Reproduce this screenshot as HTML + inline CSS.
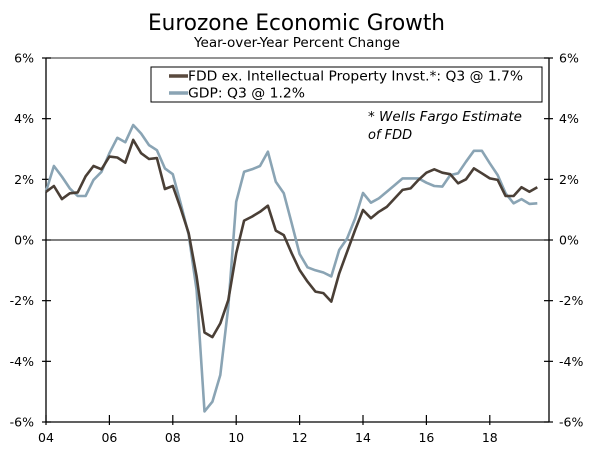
<!DOCTYPE html>
<html><head><meta charset="utf-8"><style>
body{margin:0;background:#fff}
svg text{font-family:"DejaVu Sans","Liberation Sans",sans-serif;fill:#000}
</style></head><body>
<svg id="c" width="600" height="451" viewBox="0 0 600 451" xmlns="http://www.w3.org/2000/svg">
<text x="148" y="30" font-size="22" textLength="297" lengthAdjust="spacingAndGlyphs">Eurozone Economic Growth</text>
<text x="194" y="47" font-size="13" textLength="206" lengthAdjust="spacingAndGlyphs">Year-over-Year Percent Change</text>
<g id="axes"></g>
<g id="series"></g>
<g>
<rect x="151" y="67" width="391" height="35" fill="#fff" stroke="#000" stroke-width="1"/>
<line x1="169" y1="76" x2="188" y2="76" stroke="#5a4a3e" stroke-width="3.5"/>
<text x="188" y="80.5" font-size="13" textLength="335" lengthAdjust="spacingAndGlyphs">FDD ex. Intellectual Property Invst.*: Q3 @ 1.7%</text>
<line x1="169" y1="93" x2="188" y2="93" stroke="#8aa4b4" stroke-width="3.5"/>
<text x="188" y="97.5" font-size="13" textLength="117" lengthAdjust="spacingAndGlyphs">GDP: Q3 @ 1.2%</text>
</g>
<text x="368" y="121" font-size="13" font-style="italic" textLength="154" lengthAdjust="spacingAndGlyphs">* Wells Fargo Estimate</text>
<text x="368" y="139" font-size="13" font-style="italic">of FDD</text>
</svg>
<script>
const yTicks=[-6,-4,-2,0,2,4,6];
const yTickLabels=["-6%","-4%","-2%","0%","2%","4%","6%"];
const xTickYears=[2004,2006,2008,2010,2012,2014,2016,2018];
const xTickLabels=["04","06","08","10","12","14","16","18"];
const startYear=2004;
const fdd=[1.59,1.78,1.35,1.54,1.57,2.1,2.44,2.33,2.75,2.72,2.55,3.3,2.86,2.67,2.7,1.68,1.78,1.04,0.22,-1.2,-3.05,-3.2,-2.75,-1.98,-0.44,0.64,0.77,0.93,1.13,0.31,0.16,-0.44,-0.99,-1.37,-1.7,-1.75,-2.03,-1.1,-0.39,0.33,0.99,0.72,0.93,1.09,1.37,1.65,1.7,1.98,2.22,2.33,2.22,2.17,1.87,2.0,2.36,2.2,2.03,1.98,1.45,1.45,1.74,1.59,1.74];
const gdp=[1.6,2.44,2.09,1.7,1.45,1.45,1.98,2.25,2.86,3.37,3.22,3.79,3.51,3.13,2.96,2.36,2.17,1.2,0.17,-1.65,-5.65,-5.33,-4.45,-2.2,1.26,2.25,2.33,2.44,2.91,1.92,1.54,0.55,-0.46,-0.9,-1.0,-1.07,-1.2,-0.33,0.05,0.71,1.55,1.23,1.37,1.59,1.81,2.03,2.03,2.03,1.89,1.78,1.76,2.14,2.2,2.58,2.94,2.94,2.53,2.14,1.54,1.21,1.35,1.19,1.21];
const L=46,R=549,T=58,B=422,pxYear=31.7;
const X=t=>L+(t-startYear)*pxYear;
const Y=v=>240-v*(B-240)/6;
const NS="http://www.w3.org/2000/svg";
function mk(tag,attrs,parent){const e=document.createElementNS(NS,tag);for(const k in attrs)e.setAttribute(k,attrs[k]);parent.appendChild(e);return e;}
const ax=document.getElementById('axes');
let e;
e=mk('line',{x1:L,y1:T,x2:L,y2:B,stroke:'#000','stroke-width':1.3},ax);


e=mk('line',{x1:R,y1:T,x2:R,y2:B,stroke:'#000','stroke-width':1.3},ax);


e=mk('line',{x1:L,y1:B,x2:R,y2:B,stroke:'#000','stroke-width':1.3},ax);


e=mk('line',{x1:L,y1:T,x2:R,y2:T,stroke:'#555','stroke-width':1.3},ax);


e=mk('line',{x1:L,y1:Y(0),x2:R,y2:Y(0),stroke:'#000','stroke-width':1},ax);


yTicks.forEach((v,i)=>{
 const y=Y(v);
 mk('line',{x1:L-4,y1:y,x2:L+5,y2:y,stroke:'#000','stroke-width':1.2},ax);
 mk('line',{x1:R-5,y1:y,x2:R+4,y2:y,stroke:'#000','stroke-width':1.2},ax);
 let t=mk('text',{x:L-12,y:y+4.5,'font-size':12.5,'text-anchor':'end'},ax);t.textContent=yTickLabels[i];
 
 
 t=mk('text',{x:R+10,y:y+4.5,'font-size':12.5},ax);t.textContent=yTickLabels[i];
 
 
});
xTickYears.forEach((yr,i)=>{
 const x=X(yr);
 mk('line',{x1:x,y1:B-7,x2:x,y2:B+3,stroke:'#000','stroke-width':1.2},ax);
 const t=mk('text',{x:x,y:B+20,'font-size':12.5,'text-anchor':'middle'},ax);t.textContent=xTickLabels[i];
 
 
});
const sg=document.getElementById('series');
function line(data,color,name){
 const pts=data.map((v,i)=>X(startYear+i/4).toFixed(1)+','+Y(v).toFixed(1)).join(' ');
 const p=mk('polyline',{points:pts,fill:'none',stroke:color,'stroke-width':2.6,'stroke-linejoin':'round'},sg);
 
 
}
line(gdp,'#8aa4b4','gdp-line');
line(fdd,'#4a3f36','fdd-line');
</script>
</body></html>
